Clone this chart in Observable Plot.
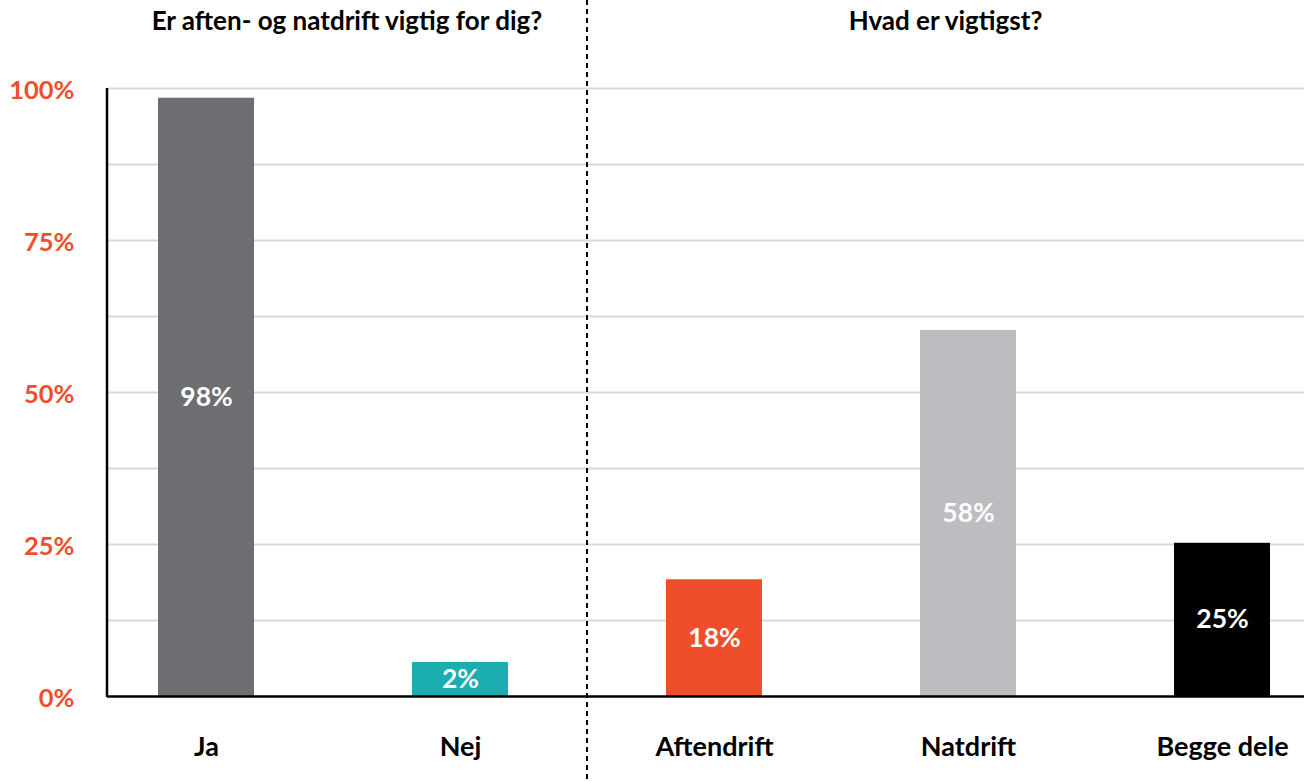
<!DOCTYPE html>
<html>
<head>
<meta charset="utf-8">
<script src="https://cdn.jsdelivr.net/npm/d3@7"></script>
<script src="https://cdn.jsdelivr.net/npm/@observablehq/plot@0.6"></script>
<style>
  html, body { margin: 0; padding: 0; background: #fff; }
  #chart svg { display: block; }
</style>
</head>
<body>
<div id="chart"></div>
<script>
// ---- data ----
const categories = ["Ja", "Nej", "Aftendrift", "Natdrift", "Begge dele"];
const values = [0.984, 0.056, 0.192, 0.602, 0.252];
const valueLabels = ["98%", "2%", "18%", "58%", "25%"];
const barColors = ["#6d6e71", "#1cadb0", "#f04e2b", "#bcbdc0", "#000000"];
const yTicks = [0, 0.25, 0.5, 0.75, 1];
const yTickLabels = ["0%", "25%", "50%", "75%", "100%"];
const gridValues = [0.125, 0.25, 0.375, 0.5, 0.625, 0.75, 0.875, 1];
const titles = ["Er aften- og natdrift vigtig for dig?", "Hvad er vigtigst?"];
const dividerAfter = "Nej";
const dividerBefore = "Aftendrift";

const data = categories.map((c, i) => ({cat: c, value: values[i], label: valueLabels[i]}));
const ticks = yTicks.map((v, i) => ({v, label: yTickLabels[i]}));

const W = 1304, H = 781;
const font = "Lato, 'Open Sans', sans-serif";
const orange = "#f04e2b";

const plot = Plot.plot({
  width: W,
  height: H,
  marginLeft: 107,
  marginRight: 0,
  marginTop: 88,
  marginBottom: 85,
  style: {fontFamily: font, background: "#fff"},
  x: {type: "band", domain: categories, range: [107, 1321], paddingInner: 0.622, paddingOuter: 0.2, axis: null},
  y: {domain: [0, 1], axis: null},
  color: {domain: categories, range: barColors},
  marks: [
    Plot.ruleY(gridValues, {stroke: "#d9d9d9", strokeWidth: 2}),
    Plot.barY(data, {x: "cat", y: "value", fill: "cat"}),
    Plot.ruleY([0], {stroke: "#000", strokeWidth: 2.5}),
    Plot.text(data, {x: "cat", y: d => d.value / 2, text: "label", fill: "#fff",
      fontSize: 26.5, fontWeight: "bold", fontFamily: font}),
    Plot.text(ticks, {y: "v", text: "label", frameAnchor: "left", textAnchor: "end", dx: -33, dy: 2,
      fill: orange, fontSize: 25.5, fontWeight: "bold", fontFamily: font}),
    Plot.text(categories, {x: d => d, y: () => 0, text: d => d, dy: 51,
      fill: "#000", fontSize: 27, fontWeight: "bold", fontFamily: font})
  ]
});

document.getElementById("chart").appendChild(plot);

// layout helpers derived from the library's scales
const xs = plot.scale("x");
const ys = plot.scale("y");
const xOf = v => xs.apply(v);
const divX = (xOf(dividerAfter) + xs.bandwidth + xOf(dividerBefore)) / 2;
const left = 107;
const svg = d3.select(plot);

// y-axis line
svg.append("line")
  .attr("x1", left).attr("x2", left)
  .attr("y1", ys.apply(1)).attr("y2", ys.apply(0) + 1)
  .attr("stroke", "#000").attr("stroke-width", 2.5);

// dashed divider
svg.append("line")
  .attr("x1", divX).attr("x2", divX)
  .attr("y1", 0).attr("y2", H)
  .attr("stroke", "#000").attr("stroke-width", 2)
  .attr("stroke-dasharray", "5,4");

// section titles
const centers = [(left + divX) / 2, (divX + W) / 2];
svg.append("g")
  .selectAll("text")
  .data(titles)
  .join("text")
  .attr("x", (d, i) => centers[i])
  .attr("y", 30)
  .attr("text-anchor", "middle")
  .attr("font-family", font)
  .attr("font-weight", "bold")
  .attr("font-size", 26)
  .attr("fill", "#000")
  .text(d => d);
</script>
</body>
</html>
